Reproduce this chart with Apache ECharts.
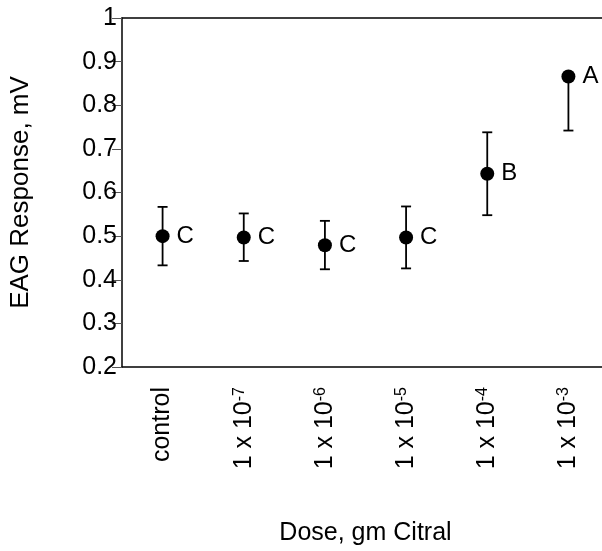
<!DOCTYPE html>
<html>
<head>
<meta charset="utf-8">
<script src="https://cdn.jsdelivr.net/npm/echarts@6/dist/echarts.min.js"></script>
<style>
  html, body { margin: 0; padding: 0; background: #fff; }
  #chart { width: 602px; height: 551px; }
</style>
</head>
<body>
<div id="chart"></div>
<script>
// dose categories, '^' marks the exponent
var categories = ['control', '1 x 10^-7', '1 x 10^-6', '1 x 10^-5', '1 x 10^-4', '1 x 10^-3']
// mean EAG response (mV) and error bar ends
var means = [0.500, 0.497, 0.479, 0.497, 0.643, 0.866]
var upper = [0.567, 0.552, 0.535, 0.568, 0.738, 0.866]
var lower = [0.433, 0.443, 0.424, 0.426, 0.548, 0.742]
var letters = ['C', 'C', 'C', 'C', 'B', 'A']
var yTicks = { min: 0.2, max: 1, interval: 0.1 }

var font = 'Liberation Sans, Arial, Helvetica, sans-serif'

var chart = echarts.init(document.getElementById('chart'))

var errData = categories.map(function(c, i) {
  return [i, means[i], lower[i], upper[i]]
})

chart.setOption({
  animation: false,
  grid: {
    left: 122,
    top: 18,
    width: 487,
    bottom: 184,
    outerBoundsMode: 'none',
    containLabel: false
  },
  xAxis: [{
    type: 'category',
    data: categories,
    boundaryGap: true,
    name: 'Dose, gm Citral',
    nameLocation: 'middle',
    nameGap: 154,
    nameTextStyle: { fontFamily: font, fontSize: 25, color: '#000' },
    axisLine: { lineStyle: { color: '#000', width: 1.5 } },
    axisTick: { length: 11, lineStyle: { color: '#555', width: 1 } },
    axisLabel: {
      rotate: 90,
      margin: 20,
      interval: 0,
      fontFamily: font,
      fontSize: 25,
      color: '#000',
      formatter: function(v) {
        var parts = v.split('^')
        if (parts.length < 2) return '{m|' + v + '}'
        return '{m|' + parts[0] + '}{s|' + parts[1] + '}'
      },
      rich: {
        m: { fontFamily: font, fontSize: 25, color: '#000' },
        s: { fontFamily: font, fontSize: 16, color: '#000', verticalAlign: 'top' }
      }
    },
    splitLine: { show: false }
  }, {
    // top frame line only
    type: 'category',
    data: categories,
    position: 'top',
    axisLine: { lineStyle: { color: '#000', width: 1.5 } },
    axisTick: { show: false },
    axisLabel: { show: false },
    splitLine: { show: false }
  }],
  yAxis: {
    type: 'value',
    min: yTicks.min,
    max: yTicks.max,
    interval: yTicks.interval,
    name: 'EAG Response, mV',
    nameLocation: 'middle',
    nameRotate: 90,
    nameGap: 88,
    nameTextStyle: { fontFamily: font, fontSize: 26, color: '#000' },
    axisLine: { show: true, lineStyle: { color: '#000', width: 1.5 } },
    axisTick: { show: true, length: 10, lineStyle: { color: '#555', width: 1 } },
    axisLabel: { margin: 5, fontFamily: font, fontSize: 25, color: '#000' },
    splitLine: { show: false }
  },
  series: [{
    type: 'custom',
    data: errData,
    z: 2,
    renderItem: function(params, api) {
      var x = api.value(0)
      var mid = api.coord([x, api.value(1)])
      var lo = api.coord([x, api.value(2)])
      var hi = api.coord([x, api.value(3)])
      var half = 5
      var style = { stroke: '#000', lineWidth: 1.8 }
      var children = [{
        type: 'line',
        shape: { x1: mid[0], y1: hi[1], x2: mid[0], y2: lo[1] },
        style: style
      }]
      if (Math.abs(hi[1] - mid[1]) > 1) {
        children.push({ type: 'line', shape: { x1: mid[0] - half, y1: hi[1], x2: mid[0] + half, y2: hi[1] }, style: style })
      }
      if (Math.abs(lo[1] - mid[1]) > 1) {
        children.push({ type: 'line', shape: { x1: mid[0] - half, y1: lo[1], x2: mid[0] + half, y2: lo[1] }, style: style })
      }
      return { type: 'group', children: children }
    }
  }, {
    type: 'scatter',
    data: means,
    z: 3,
    symbol: 'circle',
    symbolSize: 14,
    itemStyle: { color: '#000', opacity: 1 },
    label: {
      show: true,
      position: 'right',
      distance: 7,
      fontFamily: font,
      fontSize: 24,
      color: '#000',
      formatter: function(p) { return letters[p.dataIndex] }
    }
  }]
})
</script>
</body>
</html>
